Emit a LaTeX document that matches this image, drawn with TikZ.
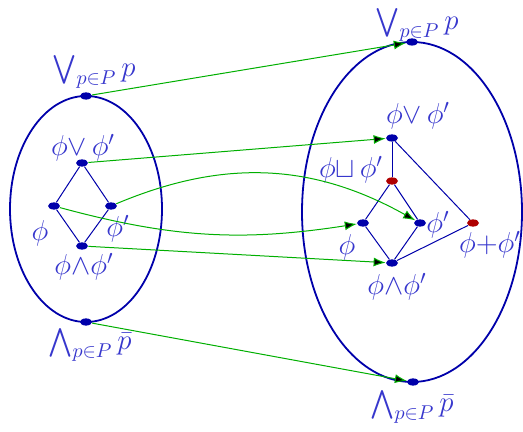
\documentclass[tikz,border=0pt]{standalone}
\usepackage{amsmath}
\usepackage{amssymb}
\usetikzlibrary{
    shapes.geometric,
    arrows.meta
}
\definecolor{hasseblue}{RGB}{0,0,170}
\definecolor{labelblue}{RGB}{55,55,205}
\definecolor{dotred}{RGB}{175,0,0}
\definecolor{mapgreen}{RGB}{0,175,0}
\tikzset{
    >={Latex[length=6pt,width=4.5pt]},
    elt/.style={
        ellipse,
        fill=hasseblue,
        inner sep=0pt,
        minimum width=6pt,
        minimum height=3.6pt
    },
    newelt/.style={
        elt,
        fill=dotred
    },
    lbl/.style={
        text=labelblue,
        inner sep=0pt,
        font=\Large
    }
}

\begin{document}
\begin{tikzpicture}[
    x=0.5pt,
    y=0.5pt
]
    \useasboundingbox (0,0) rectangle (523,432);

    % Conjuntos
    \draw[hasseblue, line width=0.9pt] (86,223) ellipse [x radius=76, y radius=113];
    \draw[hasseblue, line width=0.9pt] (412,220) ellipse [x radius=110, y radius=170];

    % Elementos a la izquierda
    \node[elt] (topL)  at (86,336)  {};
    \node[elt] (joinL) at (82,269)  {};
    \node[elt] (phiL)  at (54,226)  {};
    \node[elt] (phipL) at (111,226) {};
    \node[elt] (meetL) at (82,186)  {};
    \node[elt] (botL)  at (86,110)  {};

    % Elementos a la derecha
    \node[elt]    (topR)  at (412,390) {};
    \node[elt]    (joinR) at (392,294) {};
    \node[newelt] (supR)  at (392,251) {};
    \node[elt]    (phiR)  at (363,209) {};
    \node[elt]    (phipR) at (420,209) {};
    \node[newelt] (plusR) at (473,209) {};
    \node[elt]    (meetR) at (392,169) {};
    \node[elt]    (botR)  at (413,50)  {};

    % Etiquetas
    \node[lbl] (lTopL)  at (94,360)  {$\bigvee_{p\in P} p$};
    \node[lbl] (lJoinL) at (83,284)  {$\phi{\vee}\,\phi'$};
    \node[lbl] (lPhiL)  at (40,199)  {$\phi$};
    \node[lbl] (lPhipL) at (118,203) {$\phi'$};
    \node[lbl] (lMeetL) at (84,165)  {$\phi{\wedge}\phi'$};
    \node[lbl] (lBotL)  at (90,87)   {$\bigwedge_{p\in P} \bar{p}$};

    \node[lbl] (lTopR)  at (417,407) {$\bigvee_{p\in P} p$};
    \node[lbl] (lJoinR) at (418,316) {$\phi{\vee}\,\phi'$};
    \node[lbl] (lSupR)  at (351,262) {$\phi{\sqcup}\,\phi'$};
    \node[lbl] (lPhiR)  at (347,185) {$\phi$};
    \node[lbl] (lPhipR) at (438,207) {$\phi'$};
    \node[lbl] (lPlusR) at (490,187) {$\phi{+}\phi'$};
    \node[lbl] (lMeetR) at (397,145) {$\phi{\wedge}\phi'$};
    \node[lbl] (lBotR)  at (412,25)  {$\bigwedge_{p\in P} \bar{p}$};

    % Orden a la izquierda
    \path[draw=hasseblue, line width=0.5pt]
        (joinL)
            edge (phiL)
            edge (phipL)
        (meetL)
            edge (phiL)
            edge (phipL);

    % Orden a la derecha
    \path[draw=hasseblue, line width=0.5pt]
        (joinR)
            edge (supR)
            edge (plusR)
        (supR)
            edge (phiR)
            edge (phipR)
        (meetR)
            edge (phiR)
            edge (phipR)
            edge (plusR);

    % Inclusion
    \path[->, draw=mapgreen, line width=0.5pt]
        (topL)  edge (topR)
        (joinL) edge (joinR)
        (phipL) edge[bend left=26] (phipR)
        (phiL)  edge[bend right=12] (phiR)
        (meetL) edge (meetR)
        (botL)  edge (botR);

\end{tikzpicture}
\end{document}
